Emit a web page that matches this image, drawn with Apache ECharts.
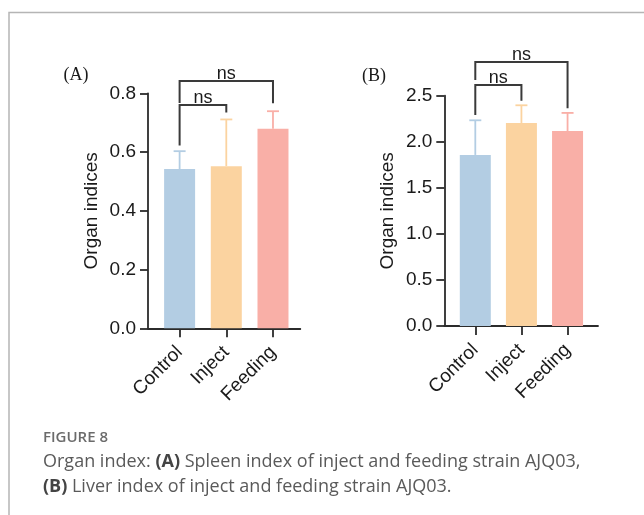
<!DOCTYPE html>
<html>
<head>
<meta charset="utf-8">
<style>
    html, body {margin: 0; padding: 0; background: #fff;}
    #chart {width: 644px; height: 515px;}
</style>
<script src="https://cdn.jsdelivr.net/npm/echarts@6/dist/echarts.min.js"></script>
</head>
<body>
<div id="chart"></div>
<script>
    var groups = ['Control', 'Inject', 'Feeding'];
    var barColors = ['#b3cde3', '#fbd3a0', '#f9afa7'];

    // panel A: spleen index
    var spleenMean = [0.542, 0.552, 0.679];
    var spleenUpper = [0.603, 0.711, 0.739];
    var spleenTicks = [0, 0.2, 0.4, 0.6, 0.8];
    // [from, to, bar level, left foot, right foot]
    var spleenBrackets = [[0, 1, 0.760, 0.622, 0.735], [0, 2, 0.842, 0.767, 0.766]];

    // panel B: liver index
    var liverMean = [1.857, 2.204, 2.117];
    var liverUpper = [2.233, 2.396, 2.313];
    var liverTicks = [0, 0.5, 1.0, 1.5, 2.0, 2.5];
    var liverBrackets = [[0, 1, 2.617, 2.291, 2.446], [0, 2, 2.866, 2.671, 2.364]];

    var axisColor = '#2b2b2b';
    var labelFont = 'Liberation Sans';

    function xAxisOf(gridIndex, min, max) {
        return {
            type: 'value', gridIndex: gridIndex, min: min, max: max,
            splitLine: {show: false},
            axisLine: {onZero: false, lineStyle: {color: axisColor, width: 1.8}},
            axisTick: {customValues: [0, 1, 2], length: 9, lineStyle: {color: axisColor, width: 1.8}},
            axisLabel: {
                customValues: [0, 1, 2], rotate: 45, margin: 21,
                fontFamily: labelFont, fontSize: 19, color: '#1a1a1a',
                formatter: function (v) { return groups[Math.round(v)]; }
            }
        };
    }

    function yAxisOf(gridIndex, max, interval) {
        return {
            type: 'value', gridIndex: gridIndex, min: 0, max: max, interval: interval,
            name: 'Organ indices', nameLocation: 'middle', nameGap: 47,
            nameTextStyle: {fontFamily: labelFont, fontSize: 19, color: '#1a1a1a'},
            splitLine: {show: false},
            axisLine: {show: true, onZero: false, lineStyle: {color: axisColor, width: 1.8}},
            axisTick: {show: true, length: 8, lineStyle: {color: axisColor, width: 1.8}},
            axisLabel: {
                margin: 12, fontFamily: labelFont, fontSize: 19, color: '#1a1a1a',
                formatter: function (v) { return v.toFixed(1); }
            }
        };
    }

    function barSeries(idx, mean) {
        return {
            type: 'bar', xAxisIndex: idx, yAxisIndex: idx, barWidth: 31,
            data: mean.map(function (v, i) {
                return {value: [i, v], itemStyle: {color: barColors[i]}};
            })
        };
    }

    function errSeries(idx, mean, upper) {
        return {
            type: 'custom', xAxisIndex: idx, yAxisIndex: idx, clip: false, z: 1,
            data: mean.map(function (v, i) { return [i, v, upper[i]]; }),
            renderItem: function (params, api) {
                var i = api.value(0);
                var lo = api.coord([i, api.value(1)]);
                var hi = api.coord([i, api.value(2)]);
                var st = {stroke: barColors[i], lineWidth: 1.8};
                return {
                    type: 'group', children: [
                        {type: 'line', shape: {x1: lo[0], y1: lo[1], x2: hi[0], y2: hi[1]}, style: st},
                        {type: 'line', shape: {x1: hi[0] - 6, y1: hi[1], x2: hi[0] + 6, y2: hi[1]}, style: st}
                    ]
                };
            }
        };
    }

    function bracketSeries(idx, brackets) {
        return {
            type: 'custom', xAxisIndex: idx, yAxisIndex: idx, clip: false, z: 3,
            data: brackets,
            renderItem: function (params, api) {
                var a = api.coord([api.value(0), api.value(2)]);
                var b = api.coord([api.value(1), api.value(2)]);
                var la = api.coord([api.value(0), api.value(3)]);
                var rb = api.coord([api.value(1), api.value(4)]);
                return {
                    type: 'group', children: [
                        {
                            type: 'polyline',
                            shape: {points: [[la[0], la[1]], [a[0], a[1]], [b[0], b[1]], [rb[0], rb[1]]]},
                            style: {stroke: '#3a3a3a', lineWidth: 2, fill: null}
                        },
                        {
                            type: 'text',
                            style: {
                                text: 'ns', x: (a[0] + b[0]) / 2, y: a[1] + 2,
                                align: 'center', verticalAlign: 'bottom',
                                font: '18px "Liberation Sans"', fill: '#1a1a1a'
                            }
                        }
                    ]
                };
            }
        };
    }

    var myChart = echarts.init(document.getElementById('chart'));
    var option = {
        animation: false,
        backgroundColor: '#fff',
        grid: [
            {left: 148, top: 93.3, width: 152.3, height: 235},
            {left: 444.3, top: 95.7, width: 153.7, height: 230.3}
        ],
        xAxis: [xAxisOf(0, -0.677, 2.585), xAxisOf(1, -0.672, 2.66)],
        yAxis: [yAxisOf(0, spleenTicks[spleenTicks.length - 1], 0.2),
            yAxisOf(1, liverTicks[liverTicks.length - 1], 0.5)],
        series: [
            barSeries(0, spleenMean), errSeries(0, spleenMean, spleenUpper), bracketSeries(0, spleenBrackets),
            barSeries(1, liverMean), errSeries(1, liverMean, liverUpper), bracketSeries(1, liverBrackets)
        ],
        graphic: [
            {
                type: 'polyline', silent: true,
                shape: {points: [[9, 515], [9, 12.5], [644, 12.5]]},
                style: {stroke: '#b5b5b5', lineWidth: 1.5, fill: null}
            },
            {
                type: 'text', x: 76, y: 75,
                style: {text: '(A)', align: 'center', verticalAlign: 'middle', font: '18px "Liberation Serif"', fill: '#1a1a1a'}
            },
            {
                type: 'text', x: 374, y: 76,
                style: {text: '(B)', align: 'center', verticalAlign: 'middle', font: '18px "Liberation Serif"', fill: '#1a1a1a'}
            },
            {
                type: 'text', x: 43, y: 438,
                style: {text: 'FIGURE 8', verticalAlign: 'middle', font: '600 15px "Open Sans"', fill: '#6b6b6b'}
            },
            {
                type: 'text', x: 43, y: 462,
                style: {
                    text: 'Organ index: {b|(A)} Spleen index of inject and feeding strain AJQ03,',
                    verticalAlign: 'middle', font: '18px "Open Sans"', fill: '#5a5a5a',
                    rich: {b: {fontWeight: 'bold', fontFamily: 'Open Sans', fontSize: 18, fill: '#444'}}
                }
            },
            {
                type: 'text', x: 43, y: 487,
                style: {
                    text: '{b|(B)} Liver index of inject and feeding strain AJQ03.',
                    verticalAlign: 'middle', font: '18px "Open Sans"', fill: '#5a5a5a',
                    rich: {b: {fontWeight: 'bold', fontFamily: 'Open Sans', fontSize: 18, fill: '#444'}}
                }
            }
        ]
    };
    myChart.setOption(option);
</script>
</body>
</html>
